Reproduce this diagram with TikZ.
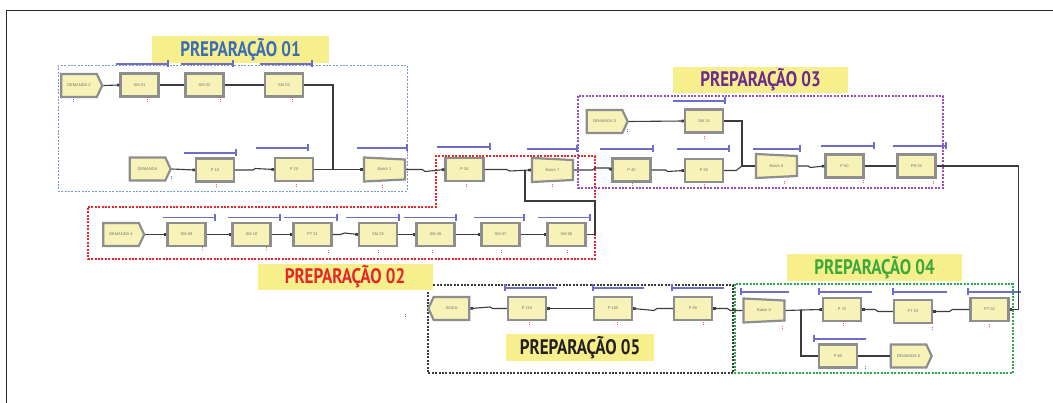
\documentclass[tikz,border=0pt]{standalone}
\usepackage{fontspec}
\setmainfont{Liberation Sans}
\newfontfamily\titlefont{PT Sans}[FakeStretch=0.81]
\usetikzlibrary{shapes.symbols,arrows.meta}
\definecolor{procfill}{HTML}{F6F2B8}
\definecolor{procedge}{HTML}{8E8E8E}
\definecolor{barblue}{HTML}{6E6EC8}
\definecolor{connc}{HTML}{3C3C3C}
\definecolor{titlebg}{HTML}{F6EF8C}
\definecolor{tc1}{HTML}{3B6DB4}
\definecolor{tc2}{HTML}{E52628}
\definecolor{tc3}{HTML}{6C2A8C}
\definecolor{tc4}{HTML}{3DA83A}
\definecolor{tc5}{HTML}{231F20}
\definecolor{gc1}{HTML}{7F98C4}
\definecolor{gc2}{HTML}{E8262B}
\definecolor{gc3}{HTML}{9A4FB8}
\definecolor{gc4}{HTML}{33A853}
\definecolor{gc5}{HTML}{3A3A3A}
\tikzset{
  proc/.style={draw=procedge, fill=procfill, line width=2.2pt, minimum width=38pt, minimum height=23pt, inner sep=0pt, font=\fontsize{4}{4}\selectfont, text=black!55},
  demand/.style={proc, shape=signal, signal to=east, signal pointer angle=130, minimum width=41pt},
  exitmod/.style={proc, shape=signal, signal to=west, signal pointer angle=130, minimum width=41pt},
  batchtxt/.style={minimum width=43pt, minimum height=25pt, inner sep=0pt, font=\fontsize{4}{4}\selectfont, text=black!55},
  batchshape/.style={draw=procedge, fill=procfill, line width=2.2pt, line join=miter},
  conn/.style={draw=connc, line width=1.1pt, -{Square[length=2.6pt,width=2.6pt]}},
  wire/.style={draw=connc, line width=1.1pt},
  qbar/.style={draw=barblue, line width=1.3pt},
  ttl/.style={fill=titlebg, inner sep=0pt, font=\titlefont\bfseries\fontsize{21}{21}\selectfont},
  grp/.style={line width=1.1pt, dash pattern=on 2pt off 1.4pt},
  qred/.style={draw=red!65, line width=0.8pt, dash pattern=on 1.2pt off 0.8pt},
  qblue/.style={draw=blue!60, line width=0.8pt, dash pattern=on 1.2pt off 0.8pt},
}
\newcommand{\batchmod}[4]{\begin{scope}[shift={(#2,#3)}]\filldraw[batchshape] (-20.5,-12) -- (20.5,-10) -- (20.5,10) -- (-20.5,12) -- cycle;\node[batchtxt] (#1) at (0,0) {#4};\end{scope}}
\newcommand{\qbR}[3]{\draw[qbar] (#1,#3) -- (#2,#3) (#2,#3-3.5) -- (#2,#3+3.5);}
\newcommand{\qbL}[3]{\draw[qbar] (#1,#3) -- (#2,#3) (#1,#3-3.5) -- (#1,#3+3.5);}
\begin{document}
\begin{tikzpicture}[x=1pt,y=-1pt]
\useasboundingbox (0,0) rectangle (1053,403);
\fill[white] (0,0) rectangle (1053,403);
\draw[line width=0.9pt, black!85] (6,403) -- (6,10) -- (1053,10);

% group frames
\draw[grp, gc1, line width=0.8pt] (58,65) rectangle (407,191);
\draw[grp, gc2, line width=1.3pt] (88,207) -- (436,207) -- (436,156) -- (595,156) -- (595,259) -- (88,259) -- cycle;
\draw[grp, gc3] (578,96) rectangle (943,188);
\draw[grp, gc4, line width=1.4pt] (735,284) rectangle (1013,373);
\draw[grp, gc5, line width=1.3pt] (428,285) rectangle (733,373);

% titles
\node[ttl, text=tc1, minimum width=177pt, minimum height=27pt] (t1) at (240.5,49.5) {PREPARAÇÃO 01};
\node[ttl, text=tc2, minimum width=175pt, minimum height=26.5pt] (t2) at (345,277) {PREPARAÇÃO 02};
\node[ttl, text=tc3, minimum width=175pt, minimum height=26pt] (t3) at (760.5,80) {PREPARAÇÃO 03};
\node[ttl, text=tc4, minimum width=175pt, minimum height=27pt] (t4) at (874.5,267.5) {PREPARAÇÃO 04};
\node[ttl, text=tc5, minimum width=148pt, minimum height=27pt] (t5) at (580,347.5) {PREPARAÇÃO 05};

% queue bars
\qbR{116}{168}{64} \qbR{181}{233}{64} \qbR{260}{312}{64}
\qbR{184}{236}{153} \qbR{256}{308}{148} \qbR{357}{407}{148} \qbR{437}{490}{147} \qbR{527}{577}{149}
\qbR{673}{725}{101} \qbR{600}{653}{149} \qbR{677}{729}{149} \qbR{753}{800}{149} \qbR{821}{874}{146} \qbR{893}{946}{146}
\qbR{163}{215}{217.5} \qbR{228}{280}{217.5} \qbR{284}{337}{217.5} \qbR{346}{399}{217.5} \qbR{404}{456}{217.5} \qbR{474}{524}{217.5} \qbR{538}{590}{217.5}
\qbL{505}{557}{288} \qbL{593}{644}{288} \qbL{672}{724}{288}
\qbL{741}{789}{292} \qbL{819}{872}{292} \qbL{893}{947}{292} \qbL{968}{1021}{292} \qbL{814}{866}{339}

% PREPARACAO 01
\node[demand] (dem2) at (79,85.5) {DEMANDA 2};
\node[proc] (sm01) at (139.5,85) {SM 01};
\node[proc] (sm02) at (204.5,85) {SM 02};
\node[proc] (sm03) at (284,85) {SM 03};
\node[demand] (dem) at (147.5,169) {DEMANDA};
\node[proc] (p10) at (215,170) {P 10};
\node[proc] (p20) at (294,169.5) {P 20};
\batchmod{b1}{384.5}{169.5}{Batch 1}
\node[proc] (p30) at (464.5,169.5) {P 30};
\batchmod{b7}{552.5}{170}{Batch 7}

% PREPARACAO 03
\node[demand] (dem5) at (604.5,121.5) {DEMANDA 5};
\node[proc] (sm34) at (704,121) {SM 34};
\node[proc] (p40) at (631.5,170) {P 40};
\node[proc] (p50) at (704,170.5) {P 50};
\batchmod{b8}{776.5}{166}{Batch 8}
\node[proc] (p60) at (844.5,166) {P 60};
\node[proc] (pr01) at (916.5,166) {PR 01};

% PREPARACAO 02
\node[demand] (dem4) at (121,234.5) {DEMANDA 4};
\node[proc] (sm09) at (186.5,234.5) {SM 09};
\node[proc] (sm10) at (251.5,234.5) {SM 10};
\node[proc] (pt21) at (312.5,234.5) {PT 21};
\node[proc] (sm25) at (378,234.5) {SM 25};
\node[proc] (sm26) at (435.5,234.5) {SM 26};
\node[proc] (sm07) at (500.5,234.5) {SM 07};
\node[proc] (sm08) at (566.5,234.5) {SM 08};

% PREPARACAO 05
\node[exitmod] (saida) at (451.5,308.5) {SAIDA};
\node[proc] (p110) at (527,308.5) {P 110};
\node[proc] (p100) at (613,308.5) {P 100};
\node[proc] (p90) at (693,308.5) {P 90};

% PREPARACAO 04
\batchmod{b9}{764}{310.5}{Batch 9}
\node[proc] (p70) at (842,309.5) {P 70};
\node[proc] (pt03) at (913,311.5) {PT 03};
\node[proc] (pt02) at (989.5,309.5) {PT 02};
\node[proc] (p80) at (838,356) {P 80};
\node[demand] (dem6) at (908.5,356) {DEMANDA 6};

% junctions
\coordinate (j1) at (333,169.5);
\coordinate (j2) at (525,170.5);
\coordinate (j3) at (742,166);
\coordinate (j4) at (801,310);

% connectors
\draw[conn] (dem2.east) -- (sm01.west);
\draw[conn] (sm01.east) -- (sm02.west);
\draw[conn] (sm02.east) -- (sm03.west);
\draw[conn] (sm03.east) -| (j1) -- (b1.west);
\draw[wire] (p20.east) -- (p20.east -| j1);
\draw[conn] (dem.east) -- (p10.west);
\draw[conn] (p10.east) -- ++(18,0) -- ++(2,-1.5) -- (p20.west);
\draw[conn] (b1.east) -- ++(16,0) -- ++(3,2) -- (p30.west);
\draw[conn] (p30.east) -- ++(22,0) -- ++(3,1.5) -- (b7.west);
\draw[wire] (sm08.east) -| (595,201) -| (j2);
\draw[conn] (b7.east) -- ++(18,0) -- ++(3,-2) -- ++(14,0) -- (p40.west);
\draw[conn] (p40.east) -- ++(14,0) -- ++(2,1.5) -- (p50.west);
\draw[conn] (dem5.east) -- (sm34.west);
\draw[conn] (sm34.east) -| (j3) -- (b8.west);
\draw[wire] (p50.east) -- ++(12,0) -- (j3);
\draw[conn] (b8.east) -- ++(10,0) -- ++(2,1.5) -- (p60.west);
\draw[conn] (p60.east) -- (pr01.west);
\draw[conn] (pr01.east) -- ++(81.5,0) |- (pt02.east);
\draw[conn] (pt02.west) -- ++(-17,0) -- ++(-3,2) -- (pt03.east);
\draw[conn] (pt03.west) -- ++(-15,0) -- ++(-3,-2) -- (p70.east);
\draw[wire] (b9.east) -- (j4);
\draw[conn] (j4) -- (p70.west);
\draw[conn] (j4) |- (p80.west);
\draw[conn] (p80.east) -- (dem6.west);
\draw[conn] (b9.west) -- ++(-12,0) -- ++(-3,-2) -- (p90.east);
\draw[conn] (p90.west) -- ++(-16,0) -- ++(-3,2) -- (p100.east);
\draw[conn] (p100.west) -- (p110.east);
\draw[conn] (p110.west) -- ++(-14,0) -- ++(-3,-1.5) -- (saida.east);
\draw[conn] (dem4.east) -- (sm09.west);
\draw[conn] (sm09.east) -- (sm10.west);
\draw[conn] (sm10.east) -- (pt21.west);
\draw[conn] (pt21.east) -- ++(8,0) -- ++(4,-1.5) -- (sm25.west);
\draw[conn] (sm25.east) -- (sm26.west);
\draw[conn] (sm26.east) -- (sm07.west);
\draw[conn] (sm07.east) -- (sm08.west);

% small status marks
\foreach \mx/\my in {73/101,171/178,627/131,405/316,865/368}
  \draw[qblue] (\mx,\my-2) -- (\mx,\my+2);
\foreach \mx/\my in {147/101,220/101,292/101,216/186,296/186,382/187,466/186,552/186,632/185,704/186,704/138,784/183,863/182,933/183,202/249,266/249,328/252,378/252,432/252,501/252,567/252,529/324,617/324,703/324,782/328,843/325,932/329,989/326}
  \draw[qred] (\mx,\my-2) -- (\mx,\my+2);
\end{tikzpicture}
\end{document}
